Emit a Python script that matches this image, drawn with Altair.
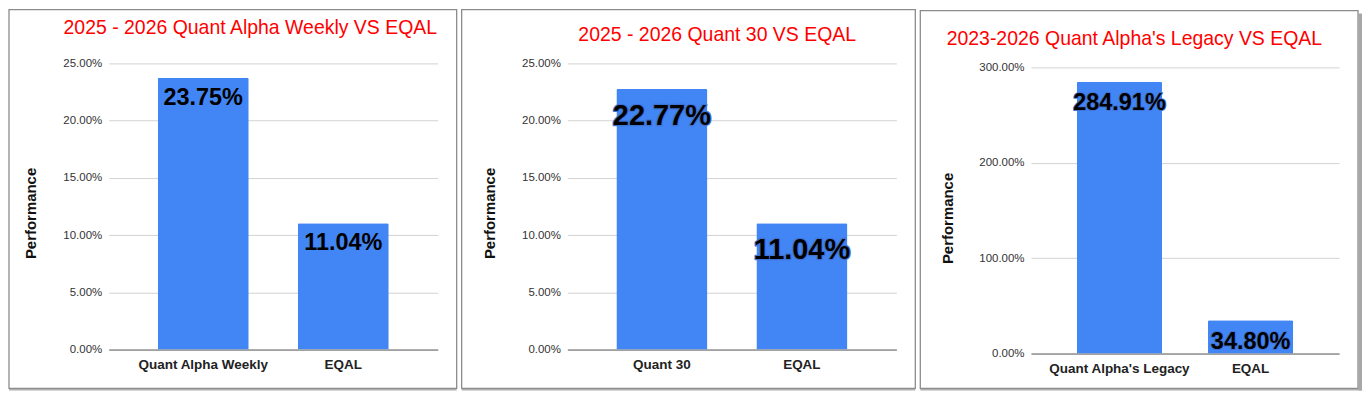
import altair as alt
import pandas as pd

# ---- data ----
p1_cats = ["Quant Alpha Weekly", "EQAL"]
p1_vals = [0.2375, 0.1104]
p2_cats = ["Quant 30", "EQAL"]
p2_vals = [0.2277, 0.1104]
p3_cats = ["Quant Alpha's Legacy", "EQAL"]
p3_vals = [2.8491, 0.3480]

titles = [
    "2025 - 2026 Quant Alpha Weekly VS EQAL",
    "2025 - 2026 Quant 30 VS EQAL",
    "2023-2026 Quant Alpha's Legacy VS EQAL",
]
ticks_small = [0, 0.05, 0.10, 0.15, 0.20, 0.25]
ticks_large = [0, 1, 2, 3]
y_title = "Performance"

BLUE = "#4285F4"
FONT = "Liberation Sans"


def panel(cats, vals, title, ticks, ymax, W, H, L, R, T, B,
          title_dx, title_offset, ytx, yty, lab_size, lab_dy, halo,
          right_shadow=False):
    df = pd.DataFrame({"cat": cats, "val": vals})
    one = alt.Chart(pd.DataFrame({"f": [0]}))

    x = alt.X("cat:N", sort=None,
              scale=alt.Scale(paddingInner=0.35, paddingOuter=0.35),
              axis=alt.Axis(title=None, labelAngle=0, labelFontSize=13.5,
                            labelFontWeight="bold", labelColor="#222",
                            labelPadding=8, ticks=False, domainColor="#666",
                            domainWidth=1, grid=False, labelFont=FONT))
    y = alt.Y("val:Q",
              scale=alt.Scale(domain=[0, ymax], nice=False, zero=True),
              axis=alt.Axis(values=ticks, format=".2%", labelFontSize=11.5,
                            labelColor="#333", labelPadding=7, ticks=False,
                            domain=False, gridColor="#d3d3d3", gridWidth=1,
                            labelFlush=False, labelFont=FONT,
                            title=y_title, titleFontSize=15,
                            titleFontWeight="bold", titleColor="#111",
                            titleFont=FONT,
                            titleX=ytx, titleY=yty, titleAngle=270,
                            titleAlign="center", titleBaseline="middle"))

    frame = one.mark_rect(fill="transparent", stroke="#8c8c8c",
                          strokeWidth=1.3).encode(
        x=alt.value(-L), x2=alt.value(W + R),
        y=alt.value(-T), y2=alt.value(H + B))
    shadow_b = one.mark_rect(fill="#b0b0b0").encode(
        x=alt.value(-L), x2=alt.value(W + R + (4 if right_shadow else 0)),
        y=alt.value(H + B + 0.65), y2=alt.value(H + B + 2))
    layers = [shadow_b]
    if right_shadow:
        shadow_r = one.mark_rect(fill="#a8a8a8").encode(
            x=alt.value(W + R + 0.65), x2=alt.value(W + R + 4),
            y=alt.value(-T + 3), y2=alt.value(H + B + 2))
        layers.append(shadow_r)
    layers.append(frame)

    base = alt.Chart(df)
    bars = base.mark_bar(color=BLUE, cornerRadiusTopLeft=1.5,
                         cornerRadiusTopRight=1.5).encode(x=x, y=y)
    layers.append(bars)
    tx = alt.X("cat:N", sort=None)
    ty = alt.Y("val:Q")
    tt = alt.Text("val:Q", format=".2%")
    if halo:
        lab_halo = base.mark_text(baseline="alphabetic", dy=lab_dy,
                                  fontSize=lab_size, fontWeight="bold",
                                  font=FONT, color="#3f74d6",
                                  stroke="#3f74d6", strokeWidth=halo,
                                  strokeJoin="round").encode(
            x=tx, y=ty, text=tt)
        layers.append(lab_halo)
    labels = base.mark_text(baseline="alphabetic", dy=lab_dy,
                            fontSize=lab_size, fontWeight="bold",
                            font=FONT, color="#000").encode(
        x=tx, y=ty, text=tt)
    layers.append(labels)

    return alt.layer(*layers).properties(
        width=W, height=H,
        title=alt.TitleParams(text=title, color="#ff0000", fontSize=19.5,
                              font=FONT, fontWeight="normal",
                              anchor="middle", frame="group",
                              baseline="alphabetic",
                              dx=title_dx, offset=title_offset),
    )


c1 = panel(p1_cats, p1_vals, titles[0], ticks_small, 0.25,
           W=330, H=287, L=100, R=19, T=54, B=39,
           title_dx=-23, title_offset=-45.15, ytx=-78.5, yty=150,
           lab_size=23.5, lab_dy=27, halo=0)
c2 = panel(p2_cats, p2_vals, titles[1], ticks_small, 0.25,
           W=330, H=287, L=106, R=19, T=54, B=39,
           title_dx=-14.7, title_offset=-52.15, ytx=-78, yty=150,
           lab_size=29, lab_dy=36, halo=2.5)
c3 = panel(p3_cats, p3_vals, titles[2], ticks_large, 3 * 291 / 287,
           W=309, H=291, L=111, R=19, T=53, B=35,
           title_dx=-50.8, title_offset=-54.45, ytx=-84, yty=155,
           lab_size=23.5, lab_dy=28.5, halo=2, right_shadow=True)

chart = alt.hconcat(c1, c2, c3, spacing=3, padding=0,
                    background="white").configure_view(strokeWidth=0)

chart.save("out.html", embed_options={"renderer": "svg", "actions": False})
